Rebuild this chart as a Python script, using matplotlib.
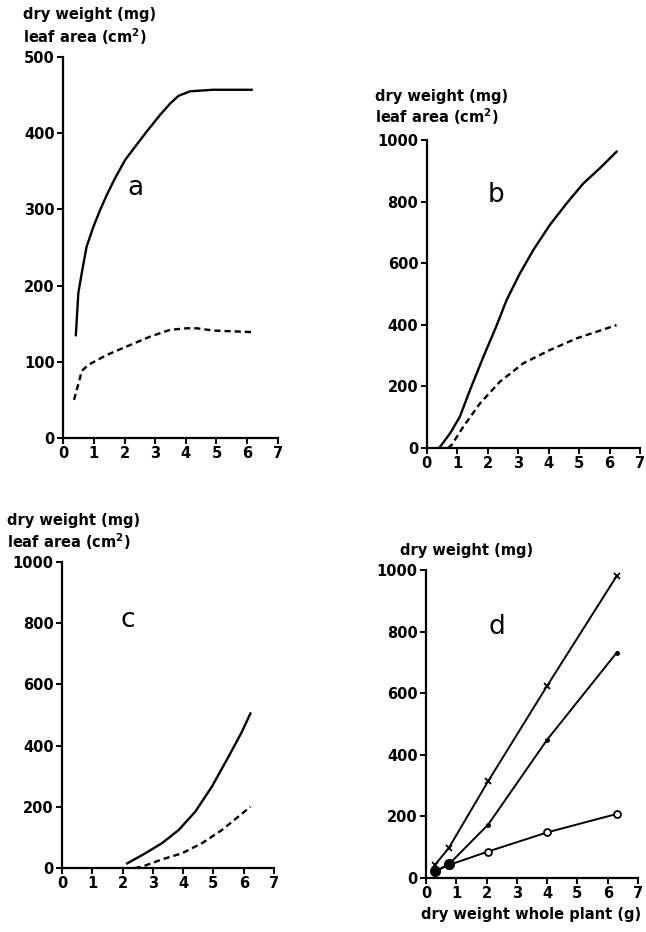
import matplotlib
matplotlib.use("Agg")
import matplotlib.pyplot as plt
import numpy as np

plt.rcParams['font.family'] = ['DejaVu Sans']

# ---- data ----
a_dw_x = [0.41, 0.49, 0.6, 0.76, 0.98, 1.2, 1.42, 1.69, 2.02, 2.34, 2.72, 3.16, 3.49, 3.76, 4.14, 4.9, 6.15]
a_dw_y = [135, 190, 216, 251, 277, 299, 319, 341, 365, 382, 402, 424, 439, 449, 455, 457, 457]
a_la_x = [0.35, 0.54, 0.6, 0.82, 1.42, 2.18, 2.83, 3.49, 4.03, 4.36, 4.9, 6.15]
a_la_y = [50, 78, 88, 96, 109, 122, 133, 142, 144, 144, 141, 139]

b_dw_x = [0.44, 0.77, 1.09, 1.42, 1.86, 2.30, 2.62, 3.06, 3.50, 4.04, 4.59, 5.14, 5.68, 6.23]
b_dw_y = [4, 48, 102, 188, 296, 399, 480, 567, 643, 724, 794, 859, 908, 962]
b_la_x = [0.7, 0.82, 1.2, 1.75, 2.40, 3.17, 4.04, 4.92, 6.23]
b_la_y = [0, 10, 69, 145, 215, 275, 318, 356, 399]

c_dw_x = [2.15, 2.75, 3.30, 3.85, 4.40, 4.95, 5.50, 5.94, 6.22]
c_dw_y = [15, 48, 81, 124, 184, 266, 364, 445, 505]
c_la_x = [2.4, 2.64, 3.30, 3.96, 4.62, 5.28, 6.22]
c_la_y = [0, 4, 28, 48, 81, 124, 200]

d_x = [0.3, 0.75, 2.05, 4.0, 6.3]
d_cross = [43, 97, 314, 624, 981]
d_dot = [22, 44, 173, 449, 732]
d_circ = [22, 42, 86, 148, 208]

x_ticks = [0, 1, 2, 3, 4, 5, 6, 7]

W, H = 646, 932
fig = plt.figure(figsize=(W / 100, H / 100), dpi=100)


def ax_from_px(left, right, top, bottom):
    return fig.add_axes([left / W, 1 - bottom / H, (right - left) / W, (bottom - top) / H])


def style(ax, ymax, ystep):
    ax.set_xlim(0, 7)
    ax.set_ylim(0, ymax)
    for s in ['top', 'right']:
        ax.spines[s].set_visible(False)
    for s in ['left', 'bottom']:
        ax.spines[s].set_linewidth(1.6)
    ax.set_xticks(x_ticks)
    ax.set_yticks(np.arange(0, ymax + 1, ystep))
    ax.tick_params(direction='out', length=4, width=1.4, labelsize=10.5, pad=2)
    for lab in ax.get_xticklabels() + ax.get_yticklabels():
        lab.set_fontweight('bold')
    ax.patch.set_alpha(0)


lw = 1.7
dash = (0, (2.6, 1.7))
lab_fs = 10.5
kw = dict(color='black', lw=lw, clip_on=False, solid_joinstyle='round', dash_joinstyle='round')

# panel a
ax_a = ax_from_px(63.3, 277.7, 57, 438)
style(ax_a, 500, 100)
ax_a.plot(a_dw_x, a_dw_y, **kw)
ax_a.plot(a_la_x, a_la_y, ls=dash, **kw)
ax_a.text(2.34, 328, 'a', fontsize=19, ha='center', va='center')
fig.text(23 / W, 1 - 15 / H, 'dry weight (mg)', fontsize=lab_fs, fontweight='bold', va='center')
fig.text(23 / W, 1 - 37 / H, 'leaf area (cm$^\\mathbf{2}$)', fontsize=lab_fs, fontweight='bold', va='center')

# panel b
ax_b = ax_from_px(426.7, 640, 140, 448)
style(ax_b, 1000, 200)
ax_b.plot(b_dw_x, b_dw_y, **kw)
ax_b.plot(b_la_x, b_la_y, ls=dash, **kw)
ax_b.text(2.27, 821, 'b', fontsize=19, ha='center', va='center')
fig.text(375 / W, 1 - 97 / H, 'dry weight (mg)', fontsize=lab_fs, fontweight='bold', va='center')
fig.text(375 / W, 1 - 117 / H, 'leaf area (cm$^\\mathbf{2}$)', fontsize=lab_fs, fontweight='bold', va='center')

# panel c
ax_c = ax_from_px(62, 274, 562, 868)
style(ax_c, 1000, 200)
ax_c.plot(c_dw_x, c_dw_y, **kw)
ax_c.plot(c_la_x, c_la_y, ls=dash, **kw)
ax_c.text(2.18, 810, 'c', fontsize=19, ha='center', va='center')
fig.text(7 / W, 1 - 521 / H, 'dry weight (mg)', fontsize=lab_fs, fontweight='bold', va='center')
fig.text(7 / W, 1 - 542 / H, 'leaf area (cm$^\\mathbf{2}$)', fontsize=lab_fs, fontweight='bold', va='center')

# panel d
ax_d = ax_from_px(426, 638, 570, 878)
style(ax_d, 1000, 200)
ax_d.plot(d_x, d_cross, color='black', lw=1.4, marker='x', ms=5, mew=1.3, clip_on=False)
ax_d.plot(d_x, d_circ, color='black', lw=1.4, marker='o', ms=5, mfc='white', mew=1.3, clip_on=False)
ax_d.plot(d_x, d_dot, color='black', lw=1.4, marker='o', ms=2.5, clip_on=False)
ax_d.plot(d_x[:2], d_dot[:2], ls='none', color='black', marker='o', ms=7, clip_on=False)
ax_d.text(2.34, 815, 'd', fontsize=19, ha='center', va='center')
fig.text(400 / W, 1 - 551 / H, 'dry weight (mg)', fontsize=lab_fs, fontweight='bold', va='center')
fig.text(531 / W, 1 - 915 / H, 'dry weight whole plant (g)', fontsize=lab_fs, fontweight='bold',
         va='center', ha='center')

fig.savefig('out.png', dpi=100, facecolor='white')
